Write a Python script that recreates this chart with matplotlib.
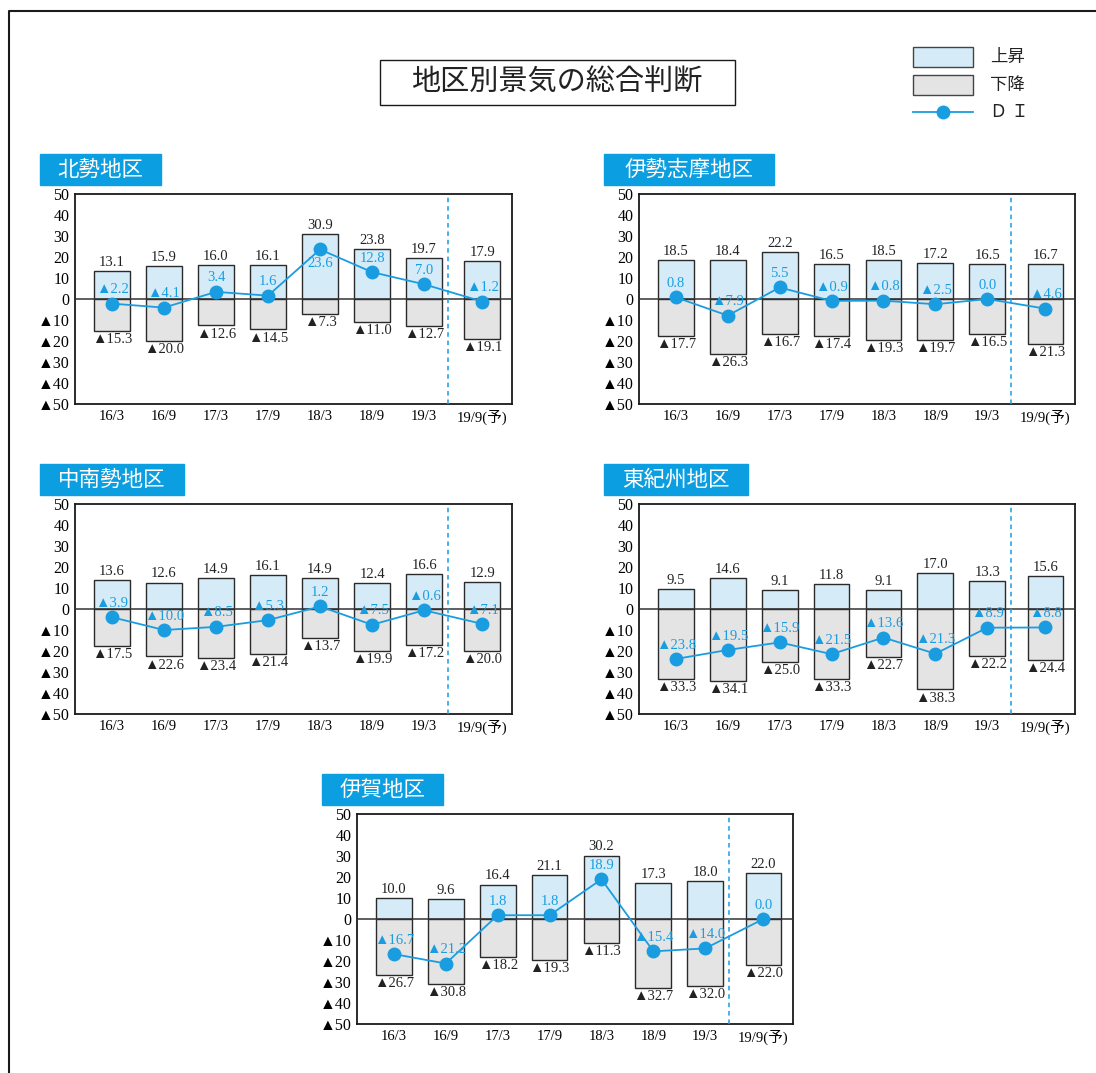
import numpy as np
import matplotlib.pyplot as plt
from matplotlib.patches import Rectangle

plt.rcParams['font.family'] = ['Liberation Serif', 'Noto Sans CJK JP']

W, H = 1096, 1073

periods = ['16/3', '16/9', '17/3', '17/9', '18/3', '18/9', '19/3', '19/9(予)']

regions = ['北勢地区', '伊勢志摩地区', '中南勢地区', '東紀州地区', '伊賀地区']

up_hokusei = [13.1, 15.9, 16.0, 16.1, 30.9, 23.8, 19.7, 17.9]
down_hokusei = [15.3, 20.0, 12.6, 14.5, 7.3, 11.0, 12.7, 19.1]
di_hokusei = [-2.2, -4.1, 3.4, 1.6, 23.6, 12.8, 7.0, -1.2]

up_iseshima = [18.5, 18.4, 22.2, 16.5, 18.5, 17.2, 16.5, 16.7]
down_iseshima = [17.7, 26.3, 16.7, 17.4, 19.3, 19.7, 16.5, 21.3]
di_iseshima = [0.8, -7.9, 5.5, -0.9, -0.8, -2.5, 0.0, -4.6]

up_chunansei = [13.6, 12.6, 14.9, 16.1, 14.9, 12.4, 16.6, 12.9]
down_chunansei = [17.5, 22.6, 23.4, 21.4, 13.7, 19.9, 17.2, 20.0]
di_chunansei = [-3.9, -10.0, -8.5, -5.3, 1.2, -7.5, -0.6, -7.1]

up_higashikishu = [9.5, 14.6, 9.1, 11.8, 9.1, 17.0, 13.3, 15.6]
down_higashikishu = [33.3, 34.1, 25.0, 33.3, 22.7, 38.3, 22.2, 24.4]
di_higashikishu = [-23.8, -19.5, -15.9, -21.5, -13.6, -21.3, -8.9, -8.8]

up_iga = [10.0, 9.6, 16.4, 21.1, 30.2, 17.3, 18.0, 22.0]
down_iga = [26.7, 30.8, 18.2, 19.3, 11.3, 32.7, 32.0, 22.0]
di_iga = [-16.7, -21.2, 1.8, 1.8, 18.9, -15.4, -14.0, 0.0]

yticks = [50, 40, 30, 20, 10, 0, -10, -20, -30, -40, -50]

BLUE = '#1a9de0'
BOX_BLUE = '#0b9ee0'
UP_COL = '#d5ecf8'
DOWN_COL = '#e4e4e4'
EDGE = '#2a2a2a'


def fmt(v):
    return ('▲%.1f' % -v) if v < 0 else '%.1f' % v


def px_axes(l, t, r, b):
    return fig.add_axes([l / W, 1 - b / H, (r - l) / W, (b - t) / H])


def draw_panel(box, title, title_w, up, down, di, below=()):
    l, t, r, b = box
    ax = px_axes(l, t, r, b)
    xs = np.append(np.arange(7), 7.12)
    ax.bar(xs, up, width=0.69, color=UP_COL, edgecolor=EDGE, linewidth=1, zorder=2)
    ax.bar(xs, -np.array(down), width=0.69, color=DOWN_COL, edgecolor=EDGE, linewidth=1, zorder=2)
    ax.axhline(0, color='#333333', linewidth=1.1, zorder=3)
    ax.axvline(6.46, color=BLUE, linewidth=1.1, linestyle=(0, (3, 2.5)), zorder=3)
    ax.plot(xs, di, color=BLUE, linewidth=1.3, marker='o', markersize=9, zorder=4)
    for i, x in enumerate(xs):
        ax.annotate(fmt(up[i]), (x, up[i]), xytext=(0, 1.5), textcoords='offset points',
                    ha='center', va='bottom', fontsize=10.5, color='#222222')
        ax.annotate(fmt(-down[i]), (x, -down[i]), xytext=(0, -1.5), textcoords='offset points',
                    ha='center', va='top', fontsize=10.5, color='#222222')
        dy = -10 if i in below else 10
        ax.annotate(fmt(di[i]), (x, di[i]), xytext=(0, dy), textcoords='offset points',
                    ha='center', va='center', fontsize=10.5, color=BLUE, zorder=5)
    ax.set_xlim(-0.71, 7.69)
    ax.set_ylim(-50, 50)
    ax.set_yticks(yticks)
    ax.set_yticklabels(['▲%d' % -v if v < 0 else '%d' % v for v in yticks], fontsize=11.5)
    ax.set_xticks(xs)
    ax.set_xticklabels(periods, fontsize=10.5)
    ax.tick_params(length=0, pad=4)
    for s in ax.spines.values():
        s.set_linewidth(1.3)
        s.set_color('#1a1a1a')
    # region title box
    bg.add_patch(Rectangle((l - 35, t - 40), title_w, 31, color=BOX_BLUE, zorder=1))
    bg.text(l - 35 + title_w / 2, t - 24, title, color='white', fontsize=15.5,
            ha='center', va='center', family='Noto Sans CJK JP', zorder=2)
    return ax


fig = plt.figure(figsize=(W / 100, H / 100), dpi=100)
bg = fig.add_axes([0, 0, 1, 1])
bg.set_xlim(0, W)
bg.set_ylim(H, 0)
bg.axis('off')

# outer frame
bg.plot([9, 9, W], [H, 11, 11], color='#1a1a1a', linewidth=1.5)

# main title
bg.add_patch(Rectangle((380, 60), 355, 45, fill=False, edgecolor='#1a1a1a', linewidth=1))
bg.text(557, 83, '地区別景気の総合判断', fontsize=21, ha='center', va='center',
        family='Noto Sans CJK JP', color='#222222')

# legend
bg.add_patch(Rectangle((913, 47), 60, 20, facecolor=UP_COL, edgecolor='#444444', linewidth=1))
bg.add_patch(Rectangle((913, 75), 60, 20, facecolor=DOWN_COL, edgecolor='#444444', linewidth=1))
bg.plot([913, 973], [112, 112], color=BLUE, linewidth=1.3)
bg.plot([943], [112], 'o', color=BLUE, markersize=9)
bg.text(990, 57, '上昇', fontsize=12.5, va='center', family='Noto Sans CJK JP', color='#222222')
bg.text(990, 85, '下降', fontsize=12.5, va='center', family='Noto Sans CJK JP', color='#222222')
bg.text(990, 112, 'Ｄ Ｉ', fontsize=12.5, va='center', family='Noto Sans CJK JP', color='#222222')

draw_panel((75, 194, 512, 404), regions[0], 121, up_hokusei, down_hokusei, di_hokusei, below=(4,))
draw_panel((639, 194, 1075, 404), regions[1], 170, up_iseshima, down_iseshima, di_iseshima)
draw_panel((75, 504, 512, 714), regions[2], 144, up_chunansei, down_chunansei, di_chunansei)
draw_panel((639, 504, 1075, 714), regions[3], 144, up_higashikishu, down_higashikishu, di_higashikishu)
draw_panel((357, 814, 793, 1024), regions[4], 121, up_iga, down_iga, di_iga)

fig.savefig('out.png', dpi=100)
